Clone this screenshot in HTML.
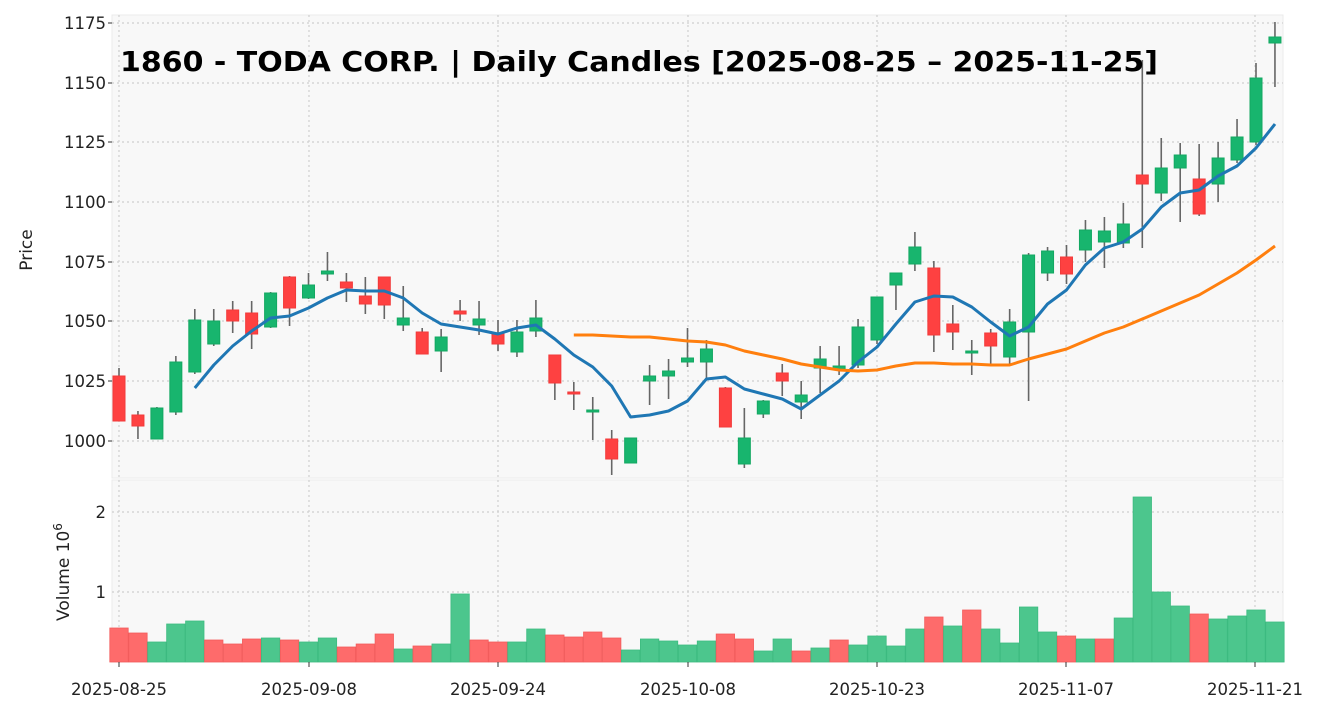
<!DOCTYPE html>
<html><head><meta charset="utf-8"><style>
html,body{margin:0;padding:0;background:#fff;}
svg{display:block;font-family:"DejaVu Sans","Liberation Sans",sans-serif;}
</style></head><body>
<svg id="c" width="1330" height="714" xmlns="http://www.w3.org/2000/svg">
<rect x="0" y="0" width="1330" height="714" fill="#fff"/>
<rect x="112" y="15" width="1171" height="463" fill="#f8f8f8" stroke="#ebebeb"/>
<rect x="112" y="480" width="1171" height="182" fill="#f8f8f8" stroke="#ebebeb"/>
<g id="grid" stroke="#cfcfcf" stroke-dasharray="2,3" stroke-width="1.2"></g>
<g id="vol"></g>
<g id="cand"></g>
<polyline id="ma1" fill="none" stroke="#1f77b4" stroke-width="3" stroke-linejoin="round"/>
<polyline id="ma2" fill="none" stroke="#ff7f0e" stroke-width="3" stroke-linejoin="round"/>
<g id="lab" font-size="16.5" fill="#222"></g>
<text x="120" y="71" font-size="27.5" font-weight="bold" fill="#000" textLength="1038" lengthAdjust="spacingAndGlyphs">1860 - TODA CORP. | Daily Candles [2025-08-25 – 2025-11-25]</text>
<text transform="translate(32,250) rotate(-90)" font-size="17" fill="#222" text-anchor="middle">Price</text>
<text transform="translate(69,572) rotate(-90)" font-size="17" fill="#222" text-anchor="middle">Volume  10<tspan font-size="12" dy="-7">6</tspan></text>
</svg>
<script>
var NS="http://www.w3.org/2000/svg";
function el(p,t,a,txt){var e=document.createElementNS(NS,t);for(var k in a)e.setAttribute(k,a[k]);if(txt!==undefined)e.textContent=txt;document.getElementById(p).appendChild(e);return e;}
function X(i){return 119+18.95*i;}
var py=[23,83,142,202,262,321,381,441];
py.forEach(function(y){el("grid","line",{x1:112,x2:1283,y1:y,y2:y});});
[512,592].forEach(function(y){el("grid","line",{x1:112,x2:1283,y1:y,y2:y});});
var xt=[119,309,498,688,877,1066,1255];
xt.forEach(function(x){el("grid","line",{x1:x,x2:x,y1:15,y2:478});el("grid","line",{x1:x,x2:x,y1:480,y2:662});});
var pl=["1175","1150","1125","1100","1075","1050","1025","1000"];
py.forEach(function(y,i){el("lab","text",{x:106,y:y+6,"text-anchor":"end"},pl[i]);el("lab","line",{x1:108,x2:112,y1:y,y2:y,stroke:"#333"});});
el("lab","text",{x:106,y:518,"text-anchor":"end"},"2");
el("lab","text",{x:106,y:598,"text-anchor":"end"},"1");
var xl=["2025-08-25","2025-09-08","2025-09-24","2025-10-08","2025-10-23","2025-11-07","2025-11-21"];
xt.forEach(function(x,i){el("lab","text",{x:x,y:695,"text-anchor":"middle"},xl[i]);el("lab","line",{x1:x,x2:x,y1:662,y2:667,stroke:"#333"});});
var C=[[376,421,368,421,0],[415,426,411,439,0],[408,439,407,439,1],[362,412,356,415,1],[320,372,309,374,1],[321,344,309,346,1],[310,321,301,333,0],[313,334,301,349,0],[293,327,292,328,1],[277,308,276,326,0],[285,298,273,299,1],[271,274,252,281,1],[282,288,273,302,0],[296,304,277,314,0],[277,305,277,319,0],[318,325,286,331,1],[332,354,328,354,0],[337,351,329,372,1],[311,314,300,321,0],[319,325,301,335,1],[333,344,320,351,0],[332,352,320,357,1],[318,331,300,337,1],[355,383,355,400,0],[392,393,382,410,0],[410,411,397,440,1],[439,459,430,475,0],[438,463,438,463,1],[376,381,365,405,1],[371,376,359,399,1],[358,362,328,367,1],[349,362,340,378,1],[388,427,387,427,0],[438,464,408,468,1],[401,414,400,418,1],[373,381,364,396,0],[395,402,381,419,1],[359,368,346,393,1],[366,369,346,375,1],[327,365,319,368,1],[297,340,297,344,1],[273,285,273,310,1],[247,264,232,271,1],[268,335,261,352,0],[324,332,305,350,0],[351,352,340,375,1],[333,346,329,364,0],[322,357,309,364,1],[255,332,253,401,1],[251,273,247,281,1],[257,274,245,284,0],[230,250,220,262,1],[231,242,217,268,1],[224,243,203,248,1],[175,184,60,248,0],[168,193,138,201,1],[155,168,143,222,1],[179,214,144,216,0],[158,184,142,202,1],[137,160,119,163,1],[78,142,63,145,1],[37,43,22,87,1]];
C.forEach(function(c,i){var x=X(i);var col=c[4]?"#18b56e":"#fe4141";var sc=c[4]?"#13a862":"#f23a3a";
el("cand","line",{x1:x,x2:x,y1:c[2],y2:c[3],stroke:"#666","stroke-width":1.6});
var h=Math.max(c[1]-c[0],2);el("cand","rect",{x:x-6,y:c[0],width:12,height:h,fill:col,stroke:sc,"stroke-width":1});});
var V=[[628,0],[633,0],[642,1],[624,1],[621,1],[640,0],[644,0],[639,0],[638,1],[640,0],[642,1],[638,1],[647,0],[644,0],[634,0],[649,1],[646,0],[644,1],[594,1],[640,0],[642,0],[642,1],[629,1],[635,0],[637,0],[632,0],[638,0],[650,1],[639,1],[641,1],[645,1],[641,1],[634,0],[639,0],[651,1],[639,1],[651,0],[648,1],[640,0],[645,1],[636,1],[646,1],[629,1],[617,0],[626,1],[610,0],[629,1],[643,1],[607,1],[632,1],[636,0],[639,1],[639,0],[618,1],[497,1],[592,1],[606,1],[614,0],[619,1],[616,1],[610,1],[622,1]];
V.forEach(function(v,i){var x=X(i);el("vol","rect",{x:x-9.2,y:v[0],width:18.4,height:662-v[0],fill:v[1]?"#4cc68d":"#fe6b6b",stroke:v[1]?"#3dbb80":"#f25c5c","stroke-width":0.8});});
var m1=[388,365,346,331,318,316,308,298,290,291,291,298,313,324,327,330,334,328,325,339,355,367,386,417,415,411,401,379,377,389,394,399,409,395,381,362,347,324,302,296,297,307,322,336,327,304,290,265,248,242,229,207,193,190,176,166,148,124];
document.getElementById("ma1").setAttribute("points",m1.map(function(y,i){return X(i+4).toFixed(1)+","+y;}).join(" "));
var m2=[335,335,336,337,337,339,341,342,345,351,355,359,364,367,370,371,370,366,363,363,364,364,365,365,359,354,349,341,333,327,319,311,303,295,284,273,260,246];
document.getElementById("ma2").setAttribute("points",m2.map(function(y,i){return X(i+24).toFixed(1)+","+y;}).join(" "));
</script>
</body></html>
